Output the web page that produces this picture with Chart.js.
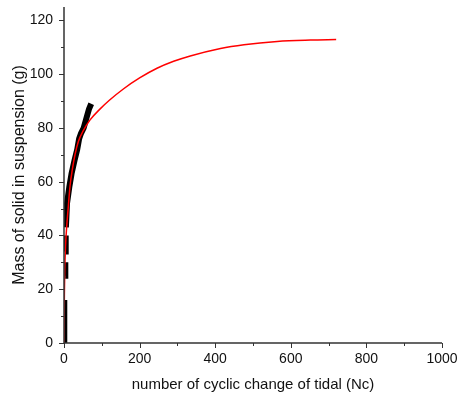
<!DOCTYPE html>
<html><head><meta charset="utf-8">
<script src="https://cdn.jsdelivr.net/npm/chart.js@4"></script>
<style>html,body{margin:0;padding:0;background:#fff}#wrap{width:460px;height:401px}</style>
</head><body><div id="wrap"><canvas id="c" width="460" height="401"></canvas></div>
<script>
// Fitted curve (red)
const fitX = [0, 1, 2, 4, 7, 11, 16, 22, 29, 38, 51, 69, 95, 120, 157, 200, 246, 290, 334, 414, 476, 564, 652, 720];
const fitY = [0, 18, 27, 36, 43, 50, 58.5, 64.5, 70, 75, 79, 83, 87, 90.3, 94.5, 98.6, 102.2, 104.8, 106.8, 109.6, 111.0, 112.2, 112.7, 112.9];
// Measured data (black), null separates gaps
const measX = [0.5, 0.5, 1, null, 3, 3.5, null, 4, 4.5, null, 5, 8, 14, 20, 28, 35, 40, 45, 52, 60, 66, 72];
const measY = [0, 8, 16, null, 25, 30, null, 34, 40, null, 43, 52, 58, 63, 68, 72, 76, 78, 80, 84, 87, 89];
const yTicks = [0, 20, 40, 60, 80, 100, 120];
const xTicks = [0, 200, 400, 600, 800, 1000];

const toPts = (xs, ys) => xs.map((x, i) => (x === null ? {x: null, y: null} : {x: x, y: ys[i]}));

const FONT = "'Liberation Sans', Arial, sans-serif";
const AX = '#333';

const minorTicks = {
  id: 'minorTicks',
  afterDraw(chart) {
    const ctx = chart.ctx, xs = chart.scales.x, ys = chart.scales.y;
    ctx.save();
    ctx.strokeStyle = AX; ctx.lineWidth = 1;
    for (let v = 0; v <= 1000; v += 100) {
      const major = v % 200 === 0;
      const px = Math.round(xs.getPixelForValue(v)) + 0.5;
      ctx.beginPath(); ctx.moveTo(px, ys.bottom); ctx.lineTo(px, ys.bottom + (major ? 5 : 3)); ctx.stroke();
    }
    for (let v = 0; v <= 120; v += 10) {
      const major = v % 20 === 0;
      const py = Math.round(ys.getPixelForValue(v)) + 0.5;
      ctx.beginPath(); ctx.moveTo(xs.left, py); ctx.lineTo(xs.left - (major ? 5 : 3), py); ctx.stroke();
    }
    ctx.lineWidth = 1.5;
    ctx.beginPath(); ctx.moveTo(xs.left, ys.top); ctx.lineTo(xs.left, ys.bottom); ctx.lineTo(xs.right, ys.bottom); ctx.stroke();
    ctx.restore();
  }
};

new Chart(document.getElementById('c'), {
  type: 'line',
  data: {
    datasets: [
      {data: toPts(measX, measY), borderColor: '#000', borderWidth: 6, pointRadius: 0, spanGaps: false, tension: 0, order: 2},
      {data: toPts(fitX, fitY), borderColor: '#ff0000', borderWidth: 1.5, pointRadius: 0, cubicInterpolationMode: 'monotone', order: 1}
    ]
  },
  options: {
    responsive: false, animation: false,
    layout: {padding: {left: 0, right: 18, top: 7, bottom: 0}},
    plugins: {legend: {display: false}, tooltip: {enabled: false}},
    scales: {
      x: {
        type: 'linear', min: 0, max: 1000,
        afterBuildTicks: s => { s.ticks = xTicks.map(v => ({value: v})); },
        afterFit: s => { s.height = 58; s.paddingLeft = 0; s.paddingRight = 0; },
        border: {display: false},
        grid: {display: false, drawOnChartArea: false},
        ticks: {color: '#111', font: {family: FONT, size: 14}, padding: 0, maxRotation: 0, callback: v => String(v)},
        title: {display: true, text: 'number of cyclic change of tidal (Nc)', color: '#111', font: {family: FONT, size: 15}, padding: {top: 4, bottom: 7}}
      },
      y: {
        type: 'linear', min: 0, max: 125,
        afterBuildTicks: s => { s.ticks = yTicks.map(v => ({value: v})); },
        afterFit: s => { s.width = 64; s.paddingTop = 0; s.paddingBottom = 0; },
        border: {display: false},
        grid: {display: false, drawOnChartArea: false},
        ticks: {color: '#111', font: {family: FONT, size: 14}, padding: 3, callback: v => String(v)},
        title: {display: true, text: 'Mass of solid in suspension (g)', color: '#111', font: {family: FONT, size: 16}, padding: {top: 10, bottom: 0}}
      }
    }
  },
  plugins: [minorTicks]
});
</script></body></html>
